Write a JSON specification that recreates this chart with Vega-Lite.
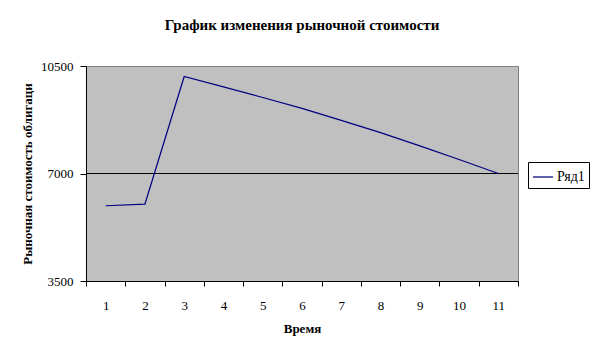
{
  "$schema": "https://vega.github.io/schema/vega-lite/v6.json",
  "width": 432,
  "height": 215,
  "autosize": {"type": "none"},
  "padding": {"left": 86, "top": 66, "right": 86, "bottom": 75},
  "background": "white",
  "title": {
    "text": "График изменения рыночной стоимости",
    "font": "Liberation Serif",
    "fontSize": 15,
    "fontWeight": "bold",
    "color": "black",
    "frame": "group",
    "anchor": "middle",
    "baseline": "alphabetic",
    "offset": 15
  },
  "data": {
    "values": [
      {"t": 1, "value": 5950},
      {"t": 2, "value": 6000},
      {"t": 3, "value": 10160},
      {"t": 4, "value": 9820},
      {"t": 5, "value": 9475},
      {"t": 6, "value": 9120},
      {"t": 7, "value": 8730},
      {"t": 8, "value": 8330},
      {"t": 9, "value": 7900},
      {"t": 10, "value": 7455},
      {"t": 11, "value": 7000}
    ]
  },
  "layer": [
    {
      "mark": {"type": "rule", "color": "black", "strokeWidth": 1},
      "encoding": {
        "y": {"datum": 7000, "type": "quantitative"}
      }
    },
    {
      "mark": {"type": "line", "strokeWidth": 1.25},
      "encoding": {
        "x": {
          "field": "t",
          "type": "ordinal",
          "bandPosition": 0.5,
          "scale": {"type": "band", "paddingInner": 0, "paddingOuter": 0},
          "axis": {
            "title": "Время",
            "labelAngle": 0,
            "tickBand": "extent",
            "tickSize": 5,
            "tickColor": "black",
            "domainColor": "black",
            "labelPadding": 13,
            "labelFont": "Liberation Serif",
            "labelFontSize": 13,
            "labelColor": "black",
            "titleFont": "Liberation Serif",
            "titleFontSize": 13,
            "titleFontWeight": "bold",
            "titleColor": "black",
            "titleY": 47,
            "titleBaseline": "middle"
          }
        },
        "y": {
          "field": "value",
          "type": "quantitative",
          "scale": {"domain": [3500, 10500], "nice": false, "zero": false},
          "axis": {
            "title": "Рыночная стоимость облигаци",
            "values": [3500, 7000, 10500],
            "format": "d",
            "grid": false,
            "tickSize": 6,
            "tickColor": "black",
            "domainColor": "black",
            "labelPadding": 7,
            "labelFont": "Liberation Serif",
            "labelFontSize": 13,
            "labelColor": "black",
            "titleFont": "Liberation Serif",
            "titleFontSize": 13,
            "titleFontWeight": "bold",
            "titleColor": "black",
            "titleX": -59,
            "titleY": 107.5,
            "titleBaseline": "middle"
          }
        },
        "color": {
          "datum": "Ряд1",
          "scale": {"range": ["#000080"]},
          "legend": {
            "title": null,
            "orient": "none",
            "legendX": 442,
            "legendY": 96,
            "strokeColor": "black",
            "fillColor": "white",
            "padding": 4,
            "symbolType": "stroke",
            "symbolSize": 400,
            "symbolStrokeWidth": 1.25,
            "labelFont": "Liberation Serif",
            "labelFontSize": 14,
            "labelColor": "black",
            "labelOffset": 3
          }
        }
      }
    }
  ],
  "config": {
    "view": {"fill": "#c0c0c0", "stroke": "#808080"}
  }
}
